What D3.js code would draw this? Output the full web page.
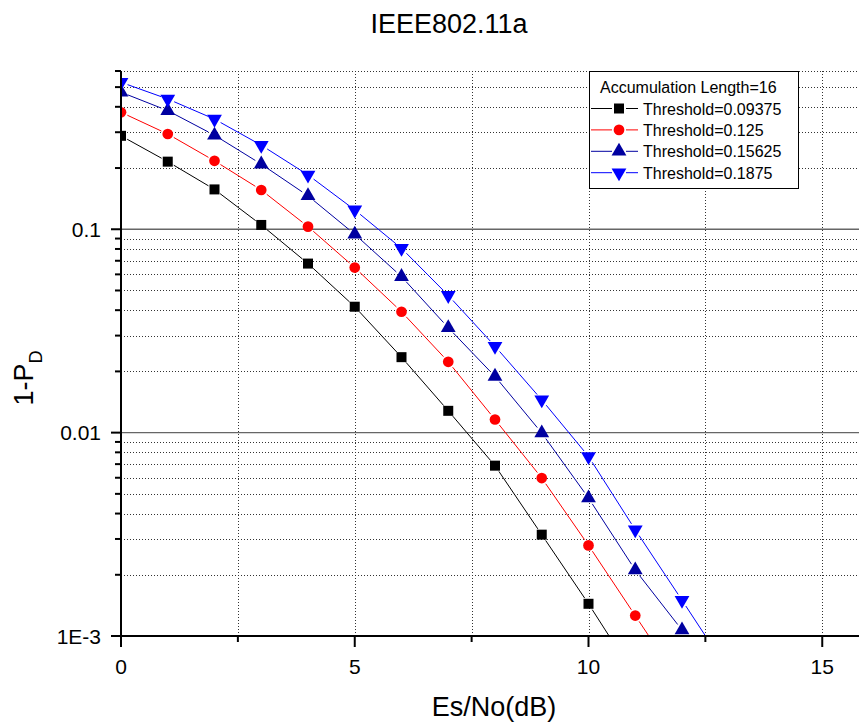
<!DOCTYPE html>
<html>
<head>
<meta charset="utf-8">
<script src="https://cdn.jsdelivr.net/npm/d3@7"></script>
<style>
  body { margin: 0; background: #fff; }
  svg { display: block; font-family: "Liberation Sans", Arial, sans-serif; }
</style>
</head>
<body>
<svg id="chart"></svg>
<script>
// Es/No values (dB)
var snr = [0, 1, 2, 3, 4, 5, 6, 7, 8, 9, 10, 11, 12, 13];

// 1-PD for each threshold
var th09375 = [0.288, 0.215, 0.157, 0.105, 0.0678, 0.0416, 0.0235, 0.0128, 0.00688, 0.00315, 0.00144, 0.00063];
var th125   = [0.376, 0.294, 0.217, 0.156, 0.103, 0.0648, 0.0393, 0.0223, 0.0116, 0.00598, 0.00279, 0.00126, 0.00057];
var th15625 = [0.472, 0.383, 0.29, 0.209, 0.146, 0.0945, 0.0585, 0.0328, 0.0189, 0.00996, 0.00477, 0.00211, 0.00107, 0.00053];
var th1875  = [0.528, 0.437, 0.348, 0.259, 0.185, 0.1245, 0.0806, 0.0473, 0.0266, 0.0145, 0.00764, 0.00333, 0.0015, 0.00067];

var seriesNames = ["Threshold=0.09375", "Threshold=0.125", "Threshold=0.15625", "Threshold=0.1875"];
var legendTitle = "Accumulation Length=16";

var xMajor = [0, 5, 10, 15];
var xMinor = [2.5, 7.5, 12.5];
var yMajor = [0.001, 0.01, 0.1];
var yMajorLabels = ["1E-3", "0.01", "0.1"];

var svgWidth = 859, svgHeight = 727;
var plot = { left: 121, top: 71, bottom: 636, right: 869 };

var svg = d3.select("#chart")
    .attr("width", svgWidth)
    .attr("height", svgHeight);

var x = d3.scaleLinear().domain([0, 16]).range([plot.left, plot.right]);
var y = d3.scaleLog().domain([0.001, 0.6]).range([plot.bottom, plot.top]);

// minor y values (2..9 per decade, up to 0.6)
var yMinor = [];
[0.001, 0.01, 0.1].forEach(function(dec) {
    for (var k = 2; k <= 9; k++) {
        var v = dec * k;
        if (v <= 0.6 + 1e-9) yMinor.push(v);
    }
});

svg.append("defs").append("clipPath").attr("id", "clip")
    .append("rect")
    .attr("x", plot.left).attr("y", plot.top)
    .attr("width", plot.right - plot.left).attr("height", plot.bottom - plot.top);

// grid
var grid = svg.append("g");
grid.selectAll(".hminor").data(yMinor).enter().append("line")
    .attr("x1", plot.left).attr("x2", plot.right)
    .attr("y1", function(d) { return Math.round(y(d)) + 0.5; })
    .attr("y2", function(d) { return Math.round(y(d)) + 0.5; })
    .attr("stroke", "#333").attr("stroke-width", 1)
    .attr("stroke-dasharray", "1,2");
grid.selectAll(".hmajor").data([0.01, 0.1]).enter().append("line")
    .attr("x1", plot.left).attr("x2", plot.right)
    .attr("y1", function(d) { return y(d); })
    .attr("y2", function(d) { return y(d); })
    .attr("stroke", "#666").attr("stroke-width", 1.3);
grid.selectAll(".vgrid").data([2.5, 5, 7.5, 10, 12.5, 15]).enter().append("line")
    .attr("x1", function(d) { return Math.round(x(d)) + 0.5; })
    .attr("x2", function(d) { return Math.round(x(d)) + 0.5; })
    .attr("y1", plot.top).attr("y2", plot.bottom)
    .attr("stroke", "#333").attr("stroke-width", 1)
    .attr("stroke-dasharray", "1,2");

// series
var series = [
    { name: seriesNames[0], values: th09375, color: "#000000", symbol: d3.symbolSquare, size: 100, rot: 0 },
    { name: seriesNames[1], values: th125,   color: "#ff0000", symbol: d3.symbolCircle, size: 90,  rot: 0 },
    { name: seriesNames[2], values: th15625, color: "#0000a0", symbol: d3.symbolTriangle, size: 95, rot: 0 },
    { name: seriesNames[3], values: th1875,  color: "#0000ff", symbol: d3.symbolTriangle, size: 95, rot: 180 }
];

var gap = 7;
var plotArea = svg.append("g").attr("clip-path", "url(#clip)");

series.forEach(function(s) {
    var pts = s.values.map(function(v, i) { return { x: x(snr[i]), y: y(v) }; });
    var segs = [];
    for (var i = 0; i < pts.length - 1; i++) {
        var a = pts[i], b = pts[i + 1];
        var dx = b.x - a.x, dy = b.y - a.y, len = Math.sqrt(dx * dx + dy * dy);
        var ux = dx / len, uy = dy / len;
        segs.push({ x1: a.x + ux * gap, y1: a.y + uy * gap, x2: b.x - ux * gap, y2: b.y - uy * gap });
    }
    plotArea.append("g").selectAll("line").data(segs).enter().append("line")
        .attr("x1", function(d) { return d.x1; }).attr("y1", function(d) { return d.y1; })
        .attr("x2", function(d) { return d.x2; }).attr("y2", function(d) { return d.y2; })
        .attr("stroke", s.color).attr("stroke-width", 1);
    plotArea.append("g").selectAll("path").data(pts).enter().append("path")
        .attr("d", d3.symbol().type(s.symbol).size(s.size))
        .attr("transform", function(d) { return "translate(" + d.x + "," + d.y + ") rotate(" + s.rot + ")"; })
        .attr("fill", s.color);
});

// axes
var axes = svg.append("g").attr("stroke", "#000").attr("stroke-width", 2);
axes.append("line").attr("x1", plot.left).attr("x2", plot.left).attr("y1", plot.top).attr("y2", plot.bottom + 1);
axes.append("line").attr("x1", plot.left - 1).attr("x2", svgWidth).attr("y1", plot.bottom).attr("y2", plot.bottom);

axes.selectAll(".ytmaj").data(yMajor).enter().append("line")
    .attr("x1", plot.left - 10).attr("x2", plot.left)
    .attr("y1", function(d) { return y(d); }).attr("y2", function(d) { return y(d); });
axes.selectAll(".ytmin").data(yMinor).enter().append("line")
    .attr("x1", plot.left - 6).attr("x2", plot.left)
    .attr("y1", function(d) { return y(d); }).attr("y2", function(d) { return y(d); });
axes.selectAll(".xtmaj").data(xMajor).enter().append("line")
    .attr("x1", function(d) { return x(d); }).attr("x2", function(d) { return x(d); })
    .attr("y1", plot.bottom).attr("y2", plot.bottom + 11);
axes.selectAll(".xtmin").data(xMinor).enter().append("line")
    .attr("x1", function(d) { return x(d); }).attr("x2", function(d) { return x(d); })
    .attr("y1", plot.bottom).attr("y2", plot.bottom + 6);

// tick labels
svg.append("g").selectAll("text").data(xMajor).enter().append("text")
    .attr("x", function(d) { return x(d); })
    .attr("y", 674)
    .attr("text-anchor", "middle")
    .attr("font-size", 21)
    .text(function(d) { return d; });
svg.append("g").selectAll("text").data(yMajor).enter().append("text")
    .attr("x", 101)
    .attr("y", function(d) { return y(d) + 7.5; })
    .attr("text-anchor", "end")
    .attr("font-size", 21)
    .text(function(d, i) { return yMajorLabels[i]; });

// titles
svg.append("text")
    .attr("x", 449).attr("y", 33)
    .attr("text-anchor", "middle")
    .attr("font-size", 27)
    .text("IEEE802.11a");
svg.append("text")
    .attr("x", 494).attr("y", 716)
    .attr("text-anchor", "middle")
    .attr("font-size", 27)
    .text("Es/No(dB)");
var ylab = svg.append("text")
    .attr("transform", "translate(33,378) rotate(-90)")
    .attr("text-anchor", "middle")
    .attr("font-size", 27);
ylab.append("tspan").text("1-P");
ylab.append("tspan").attr("font-size", 18).attr("dy", 9).text("D");

// legend
var lg = svg.append("g");
lg.append("rect")
    .attr("x", 589.5).attr("y", 71.5).attr("width", 209).attr("height", 117)
    .attr("fill", "#fff").attr("stroke", "#000").attr("stroke-width", 1);
lg.append("text").attr("x", 600).attr("y", 93).attr("font-size", 16).text(legendTitle);
series.forEach(function(s, i) {
    var ly = 108.5 + i * 21.4;
    lg.append("line").attr("x1", 591).attr("x2", 612).attr("y1", ly).attr("y2", ly)
        .attr("stroke", s.color).attr("stroke-width", 1);
    lg.append("line").attr("x1", 626).attr("x2", 638).attr("y1", ly).attr("y2", ly)
        .attr("stroke", s.color).attr("stroke-width", 1);
    lg.append("path")
        .attr("d", d3.symbol().type(s.symbol).size(s.size))
        .attr("transform", "translate(619," + ly + ") rotate(" + s.rot + ")")
        .attr("fill", s.color);
    lg.append("text").attr("x", 643).attr("y", ly + 6).attr("font-size", 16).text(s.name);
});
</script>
</body>
</html>
